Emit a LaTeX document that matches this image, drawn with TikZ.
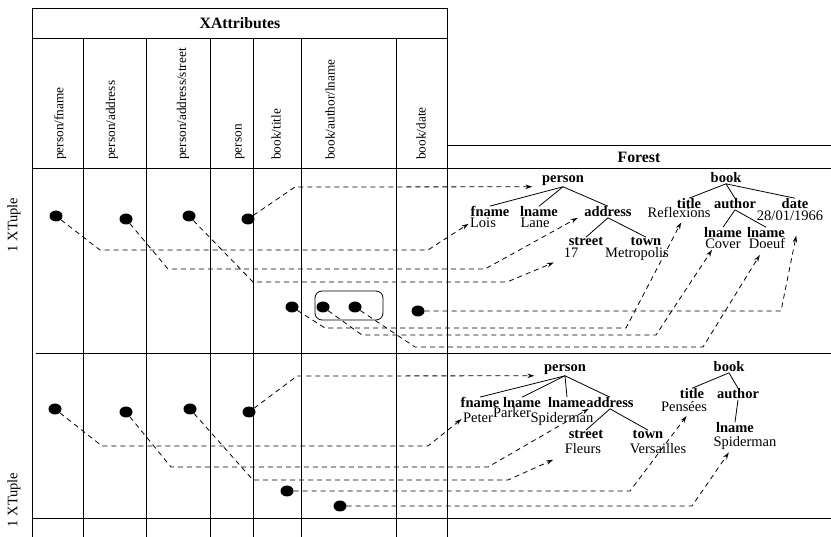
\documentclass[tikz,border=0pt]{standalone}
\usepackage{fontspec}
\setmainfont{Liberation Serif}
\usetikzlibrary{arrows.meta,shapes.geometric}

\tikzset{
  hdr/.style={font=\fontsize{15.8}{16}\selectfont\bfseries},
  colname/.style={rotate=90, anchor=west, inner sep=0pt, font=\fontsize{13.3}{14}\selectfont},
  tuple/.style={rotate=90, font=\fontsize{14.5}{15}\selectfont},
  tag/.style={anchor=base, inner sep=0.5pt, font=\fontsize{14.5}{15}\selectfont\bfseries},
  val/.style={anchor=base, inner sep=0.5pt, font=\fontsize{14.5}{15}\selectfont},
  dot/.style={ellipse, fill=black, minimum width=13pt, minimum height=11pt, inner sep=0pt},
  link/.style={line width=0.8pt, dash pattern=on 5pt off 4pt, -{Stealth[open,length=7pt,width=4.5pt]}},
  edge/.style={line width=0.8pt},
  rule/.style={line width=0.9pt}
}

\begin{document}
\begin{tikzpicture}[x=1pt,y=-1pt]
        \useasboundingbox (0,0) rectangle (831,537);

        \draw[rule] (32,8) -- (447,8);
        \draw[rule] (32,38) -- (447,38);
        \draw[rule] (32,168) -- (831,168);
        \draw[rule] (447,145) -- (831,145);
        \draw[rule] (36,353) -- (831,353);
        \draw[rule] (32,518) -- (831,518);
        \draw[rule] (32,8) -- (32,537);
        \draw[rule] (447,8) -- (447,537);
        \draw[rule] (83,38) -- (83,537);
        \draw[rule] (146,38) -- (146,537);
        \draw[rule] (210,38) -- (210,537);
        \draw[rule] (253,38) -- (253,537);
        \draw[rule] (301,38) -- (301,537);
        \draw[rule] (396,38) -- (396,537);

        \node[hdr] (xattr) at (240,23) {XAttributes};
        \node[hdr] (forest) at (639,157) {Forest};

        \node[colname] (c1) at (60,160) {person/fname};
        \node[colname] (c2) at (112,160) {person/address};
        \node[colname] (c3) at (183,160) {person/address/street};
        \node[colname] (c4) at (240,160) {person};
        \node[colname] (c5) at (276,160) {book/title};
        \node[colname] (c6) at (330,160) {book/author/lname};
        \node[colname] (c7) at (421,160) {book/date};

        \node[tuple] (t1) at (14,225) {1 XTuple};
        \node[tuple] (t2) at (14,500) {1 XTuple};

        % first tuple
        \node[tag] (p1) at (563,183) {person};
        \node[tag] (fn1) at (490,217) {fname};
        \node[tag] (ln1) at (539,217) {lname};
        \node[tag] (ad1) at (608,217) {address};
        \node[val] (lois) at (483,228) {Lois};
        \node[val] (lane) at (535,228) {Lane};
        \node[tag] (st1) at (586,246) {street};
        \node[tag] (tw1) at (646,246) {town};
        \node[val] (v17) at (571,258) {17};
        \node[val] (metro) at (637,258) {Metropolis};
        \node[tag] (b1) at (726,183) {book};
        \node[tag] (ti1) at (689,209) {title};
        \node[tag] (au1) at (735,209) {author};
        \node[tag] (da1) at (795,209) {date};
        \node[val] (refl) at (679,218) {Reflexions};
        \node[val] (dv) at (790,221) {28/01/1966};
        \node[tag] (lnc) at (723,238) {lname};
        \node[tag] (lnd) at (766,238) {lname};
        \node[val] (cover) at (723,249) {Cover};
        \node[val] (doeuf) at (767,249) {Doeuf};

        \draw[edge] (p1.south) -- (fn1.north);
        \draw[edge] (p1.south) -- (ln1.north);
        \draw[edge] (p1.south) -- (ad1.north);
        \draw[edge] (ad1.south) -- (st1.north);
        \draw[edge] (ad1.south) -- (tw1.north);
        \draw[edge] (b1.south) -- (ti1.north);
        \draw[edge] (b1.south) -- (au1.north);
        \draw[edge] (b1.south) -- (da1.north);
        \draw[edge] (au1.south) -- (lnc.north);
        \draw[edge] (au1.south) -- (lnd.north);

        \node[dot] (d1) at (56,216) {};
        \node[dot] (d2) at (126,219) {};
        \node[dot] (d3) at (189,216) {};
        \node[dot] (d4) at (248,219) {};
        \node[dot] (d5) at (292,307) {};
        \node[dot] (d6) at (323,307) {};
        \node[dot] (d7) at (355,307) {};
        \node[dot] (d8) at (418,311) {};
        \draw[edge, rounded corners=7pt] (315,291) rectangle (383,320);

        \draw[link, shorten >=1pt] (d1) -- (100,250) -- (428,250) -- (lois.west);
        \draw[link] (d2) -- (168,269) -- (485,269) -- ([xshift=-6pt]ad1.south west);
        \draw[link, shorten >=10pt] (d3) -- (253,282) -- (507,282) -- (v17.south west);
        \draw[link] (d4) -- (295,187) -- ([xshift=-9pt]p1.south west);
        \draw[link, shorten >=4pt] (d5) -- (325,328) -- (626,328) -- ([xshift=4pt]refl.south);
        \draw[link] (d6) -- (362,335) -- (656,335) -- ([xshift=-11pt]cover.south);
        \draw[link, shorten >=6pt] (d7) -- (415,347) -- (703,347) -- ([xshift=-4pt]doeuf.south);
        \draw[link, shorten >=14pt] (d8) -- (781,311) -- ([xshift=9pt]dv.south);

        % second tuple
        \node[tag] (p2) at (565,372) {person};
        \node[tag] (fn2) at (480,408) {fname};
        \node[tag] (ln2a) at (522,408) {lname};
        \node[tag] (ln2b) at (567,408) {lname};
        \node[tag] (ad2) at (610,408) {address};
        \node[val] (peter) at (478,423) {Peter};
        \node[val] (parker) at (512,418) {Parker};
        \node[val] (spid) at (562,423) {Spiderman};
        \node[tag] (st2) at (586,439) {street};
        \node[tag] (tw2) at (648,439) {town};
        \node[val] (fleurs) at (583,454) {Fleurs};
        \node[val] (vers) at (658,454) {Versailles};
        \node[tag] (b2) at (729,372) {book};
        \node[tag] (ti2) at (692,399) {title};
        \node[tag] (au2) at (738,399) {author};
        \node[val] (pens) at (684,412) {Pensées};
        \node[tag] (ln2c) at (735,433) {lname};
        \node[val] (spid2) at (745,447) {Spiderman};

        \draw[edge] (p2.south) -- (fn2.north);
        \draw[edge] (p2.south) -- (ln2a.north);
        \draw[edge] (p2.south) -- (ln2b.north);
        \draw[edge] (p2.south) -- (ad2.north);
        \draw[edge] (ad2.south) -- (st2.north);
        \draw[edge] (ad2.south) -- (tw2.north);
        \draw[edge] (b2.south) -- (ti2.north);
        \draw[edge] (b2.south) -- (au2.north);
        \draw[edge] (au2.south) -- (ln2c.north);

        \node[dot] (e1) at (55,409) {};
        \node[dot] (e2) at (126,412) {};
        \node[dot] (e3) at (190,409) {};
        \node[dot] (e4) at (249,412) {};
        \node[dot] (e5) at (287,491) {};
        \node[dot] (e6) at (340,506) {};

        \draw[link, shorten >=1pt] (e1) -- (102,446) -- (428,446) -- (peter.west);
        \draw[link] (e2) -- (171,467) -- (488,467) -- ([xshift=3pt]ad2.south west);
        \draw[link, shorten >=12pt] (e3) -- (253,480) -- (508,480) -- (fleurs.south west);
        \draw[link] (e4) -- (297,376) -- ([xshift=-9pt]p2.south west);
        \draw[link, shorten >=4pt] (e5) -- (630,491) -- ([xshift=5pt]pens.south);
        \draw[link, shorten >=2pt] (e6) -- (692,506) -- ([xshift=-15pt]spid2.south);
\end{tikzpicture}
\end{document}
